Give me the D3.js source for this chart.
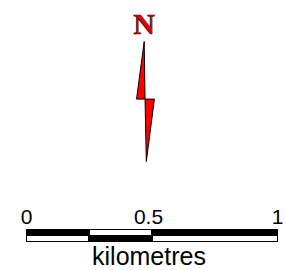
<!DOCTYPE html>
<html>
<head>
<meta charset="utf-8">
<script src="https://cdn.jsdelivr.net/npm/d3@7"></script>
<style>
  html, body { margin: 0; padding: 0; background: #fff; }
</style>
</head>
<body>
<svg width="286" height="270"></svg>
<script>
// scale bar values (kilometres)
var breaks = [0, 0.25, 0.5, 1];
var topFill = ["black", "white", "black"];
var bottomFill = ["white", "black", "white"];
var tickValues = [0, 0.5, 1];
var tickLabels = ["0", "0.5", "1"];
var unitLabel = "kilometres";

// north arrow outline in arrow units (x: -1..1, y: 0 top .. 1 bottom)
var arrowLeft = [[0, 0], [-0.9, 0.48], [0.1, 0.48]];
var arrowRight = [[0.1, 0.48], [1.2, 0.48], [0.25, 1]];

var svg = d3.select("svg");

// north arrow
var ax = d3.scaleLinear().domain([-1, 1]).range([135.7, 152.7]);
var ay = d3.scaleLinear().domain([0, 1]).range([41.5, 161.5]);
var line = d3.line().x(function(d){ return ax(d[0]); }).y(function(d){ return ay(d[1]); }).curve(d3.curveLinearClosed);

svg.selectAll("path.arrow")
    .data([arrowLeft, arrowRight])
    .enter().append("path")
    .attr("class", "arrow")
    .attr("d", line)
    .attr("fill", "#ff0000")
    .attr("stroke", "#000")
    .attr("stroke-width", 1)
    .attr("stroke-linejoin", "miter");

svg.append("text")
    .attr("x", ax(0))
    .attr("y", 34)
    .attr("text-anchor", "middle")
    .style("font-family", "'Liberation Serif', 'Times New Roman', serif")
    .style("font-weight", "bold")
    .style("font-size", "30px")
    .attr("fill", "#e60000")
    .attr("stroke", "#400000")
    .attr("stroke-width", 0.6)
    .text("N");

// scale bar
var xScale = d3.scaleLinear().domain([0, 1]).range([26, 278]);
var yTop = 229, yMid = 235.5, yBot = 242;

var segs = d3.range(breaks.length - 1);

svg.selectAll("rect.top")
    .data(segs)
    .enter().append("rect")
    .attr("class", "top")
    .attr("x", function(i){ return xScale(breaks[i]) + 0.5; })
    .attr("y", yTop + 0.5)
    .attr("width", function(i){ return xScale(breaks[i + 1]) - xScale(breaks[i]) - 1; })
    .attr("height", yMid - yTop - 0.5)
    .attr("fill", function(i){ return topFill[i]; })
    .attr("stroke", "black")
    .attr("stroke-width", 1);

svg.selectAll("rect.bottom")
    .data(segs)
    .enter().append("rect")
    .attr("class", "bottom")
    .attr("x", function(i){ return xScale(breaks[i]) + 0.5; })
    .attr("y", yMid)
    .attr("width", function(i){ return xScale(breaks[i + 1]) - xScale(breaks[i]) - 1; })
    .attr("height", yBot - yMid - 0.5)
    .attr("fill", function(i){ return bottomFill[i]; })
    .attr("stroke", "black")
    .attr("stroke-width", 1);

// tick labels
var xAxis = d3.axisTop(xScale)
    .tickValues(tickValues)
    .tickFormat(function(d, i){ return tickLabels[i]; })
    .tickSize(0)
    .tickPadding(0);

var g = svg.append("g")
    .attr("transform", "translate(0," + 224 + ")")
    .call(xAxis);
g.select(".domain").remove();
g.selectAll("text")
    .attr("dy", 0)
    .attr("dx", function(d){ return d === 0.5 ? -4 : (d === 1 ? -1 : 0); })
    .style("font-family", "'Liberation Sans', Arial, sans-serif")
    .style("font-size", "21px")
    .attr("fill", "#000");

svg.append("text")
    .attr("x", xScale(0.5) - 3)
    .attr("y", 265)
    .attr("text-anchor", "middle")
    .style("font-family", "'Liberation Sans', Arial, sans-serif")
    .style("font-size", "25px")
    .attr("fill", "#000")
    .text(unitLabel);
</script>
</body>
</html>
